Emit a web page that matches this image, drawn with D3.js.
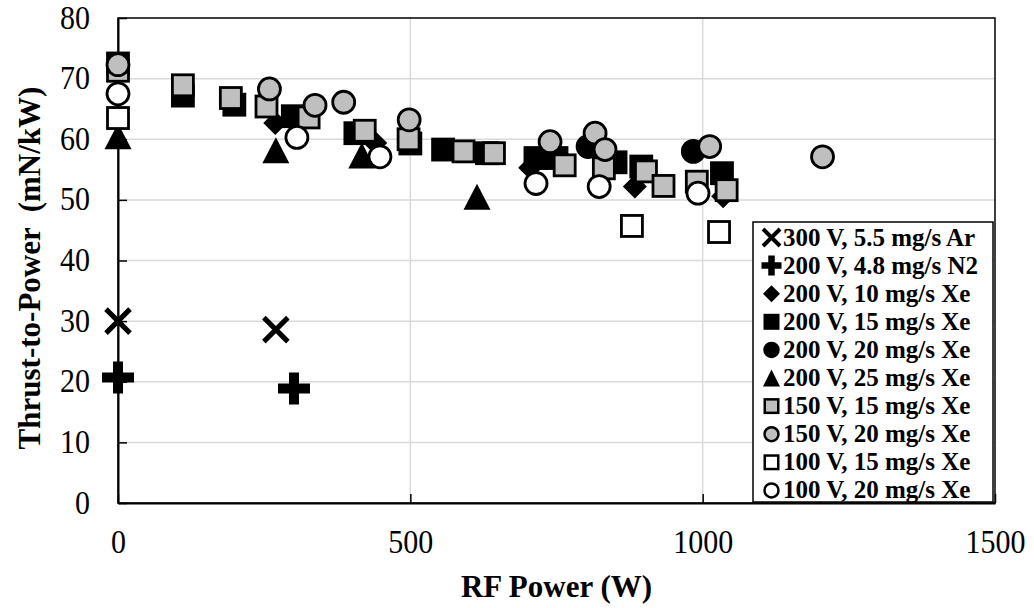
<!DOCTYPE html>
<html><head><meta charset="utf-8">
<script src="https://cdn.jsdelivr.net/npm/d3@7"></script>
<style>
html,body{margin:0;padding:0;background:#fff;}
text{font-family:"Liberation Serif","Times New Roman",serif;}
</style></head>
<body><svg id="c" width="1034" height="608"></svg>
<script>
// ---- data (RF Power W, Thrust-to-Power mN/kW) ----
const ar300_55 = [[0,30.0],[270,28.6]];
const n2_200_48 = [[0,20.7],[301,18.9]];
const xe200_10 = [[269,62.7],[440,59.4],[705,55.3],[884,52.2],[1035,50.6]];
const xe200_15 = [[0,72.5],[111,67.2],[199,65.7],[299,63.8],[406,61.0],[500,59.3],[556,58.3],[631,57.7],[714,56.9],[750,56.9],[851,56.2],[895,55.5],[1033,54.4]];
const xe200_20 = [[804,58.8],[984,58.0]];
const xe200_25 = [[0,60.5],[270,58.2],[417,57.3],[614,50.5]];
const xe150_15 = [[0,71.3],[111,68.9],[193,66.8],[254,65.4],[326,63.6],[422,61.4],[497,60.0],[591,58.0],[643,57.7],[764,55.7],[831,55.2],[903,54.7],[933,52.3],[990,53.0],[1041,51.6]];
const xe150_20 = [[0,72.3],[259,68.3],[337,65.6],[386,66.1],[498,63.2],[739,59.6],[816,61.0],[833,58.3],[1012,58.8],[1205,57.1]];
const xe100_15 = [[0,63.5],[879,45.7],[1028,44.7]];
const xe100_20 = [[0,67.5],[306,60.3],[448,57.1],[715,52.7],[823,52.2],[992,51.1]];

const seriesNames = ["300 V, 5.5 mg/s Ar","200 V, 4.8 mg/s N2","200 V, 10 mg/s Xe","200 V, 15 mg/s Xe","200 V, 20 mg/s Xe","200 V, 25 mg/s Xe","150 V, 15 mg/s Xe","150 V, 20 mg/s Xe","100 V, 15 mg/s Xe","100 V, 20 mg/s Xe"];
const seriesData = [ar300_55,n2_200_48,xe200_10,xe200_15,xe200_20,xe200_25,xe150_15,xe150_20,xe100_15,xe100_20];
const seriesShape = ["x","plus","diamond","square","circle","triangle","square","circle","square","circle"];
const seriesFill = ["#000","#000","#000","#000","#000","#000","#bfbfbf","#bfbfbf","#fff","#fff"];

const xTicks = [0,500,1000,1500];
const yTicks = [0,10,20,30,40,50,60,70,80];

// ---- layout ----
const L=118, R=995, T=18, B=503;
const x = d3.scaleLinear().domain([0,1500]).range([L,R]);
const y = d3.scaleLinear().domain([0,80]).range([B,T]);
const svg = d3.select("#c");

// gridlines
svg.append("g").selectAll("line").data(yTicks.filter(v=>v>0&&v<80)).join("line")
  .attr("x1",L).attr("x2",R).attr("y1",d=>y(d)).attr("y2",d=>y(d))
  .attr("stroke","#d9d9d9").attr("stroke-width",1.5);
svg.append("g").selectAll("line").data(xTicks.filter(v=>v>0&&v<1500)).join("line")
  .attr("y1",T).attr("y2",B).attr("x1",d=>x(d)).attr("x2",d=>x(d))
  .attr("stroke","#d9d9d9").attr("stroke-width",1.5);

// frame
svg.append("rect").attr("x",L).attr("y",T).attr("width",R-L).attr("height",B-T)
  .attr("fill","none").attr("stroke","#000").attr("stroke-width",1.5);

// axes with inside ticks
const SY = 1.12; // tick labels appear vertically stretched in the reference
const yAxis = d3.axisLeft(y).tickValues(yTicks).tickFormat(d3.format("d")).tickSizeInner(-9).tickSizeOuter(0);
const gy = svg.append("g").attr("transform",`translate(${L},0)`).call(yAxis);
const xAxis = d3.axisBottom(x).tickValues(xTicks).tickFormat(d3.format("d")).tickSizeInner(-9).tickSizeOuter(0);
const gx = svg.append("g").attr("transform",`translate(0,${B})`).call(xAxis);
[gx,gy].forEach(g=>{
  g.select(".domain").attr("stroke","#000").attr("stroke-width",2);
  g.selectAll(".tick line").attr("stroke","#000").attr("stroke-width",1.5);
  g.selectAll(".tick text").attr("fill","#000").style("font-family","Liberation Serif").style("font-size","30px")
    .attr("transform",`scale(1,${SY})`);
});
gy.selectAll(".tick text").attr("x",-28).attr("y",10/SY).attr("dy","0");
gx.selectAll(".tick text").attr("dy","0").attr("y",50/SY);

// axis titles
svg.append("text").attr("x",(L+R)/2).attr("y",597).attr("text-anchor","middle")
  .style("font-size","31px").style("font-weight","bold").text("RF Power (W)");
svg.append("text").attr("transform","translate(40,268) rotate(-90)").attr("text-anchor","middle")
  .style("font-size","31px").style("font-weight","bold").style("white-space","pre")
  .text("Thrust-to-Power  (mN/kW)");

// marker drawing
function drawMarker(g, shape, fill, big){
  if(shape==="x"){
    const h=big?12:8.5;
    g.append("path").attr("d",`M${-h},${-h}L${h},${h}M${-h},${h}L${h},${-h}`)
      .attr("stroke","#000").attr("stroke-width",big?5:4).attr("fill","none");
  } else if(shape==="plus"){
    const h=(big?16:10);
    g.append("path").attr("d",`M${-h},0L${h},0M0,${-h}L0,${h}`)
      .attr("stroke","#000").attr("stroke-width",big?10:6.5).attr("fill","none");
  } else if(shape==="diamond"){
    const h=(big?12:8.5);
    g.append("path").attr("d",`M0,${-h}L${h},0L0,${h}L${-h},0Z`).attr("fill","#000");
  } else if(shape==="square"){
    const s=(big?21:13.5);
    g.append("rect").attr("x",-s/2).attr("y",-s/2).attr("width",s).attr("height",s)
      .attr("fill",fill).attr("stroke","#000").attr("stroke-width",big?2.8:2.5);
  } else if(shape==="circle"){
    g.append("circle").attr("r",big?11:7).attr("fill",fill).attr("stroke","#000").attr("stroke-width",big?2.8:2.5);
  } else if(shape==="triangle"){
    const w=(big?13.5:8.5), hh=(big?13:8.5);
    g.append("path").attr("d",`M0,${-hh}L${w},${hh}L${-w},${hh}Z`).attr("fill","#000");
  }
}

seriesData.forEach((data,i)=>{
  const g = svg.append("g");
  g.selectAll("g").data(data).join("g")
    .attr("transform",d=>`translate(${x(d[0])},${y(d[1])})`)
    .each(function(){ drawMarker(d3.select(this), seriesShape[i], seriesFill[i], true); });
});

// legend
const lg = svg.append("g");
lg.append("rect").attr("x",753).attr("y",222).attr("width",240).attr("height",280)
  .attr("fill","#fff").attr("stroke","#000").attr("stroke-width",1.5);
seriesNames.forEach((name,i)=>{
  const cy = 237.5 + i*28.1;
  const mg = lg.append("g").attr("transform",`translate(771.5,${cy})`);
  drawMarker(mg, seriesShape[i], seriesFill[i], false);
  lg.append("text").attr("x",783).attr("y",cy+8).style("font-size","25px").style("font-weight","bold").text(name);
});
</script></body></html>
